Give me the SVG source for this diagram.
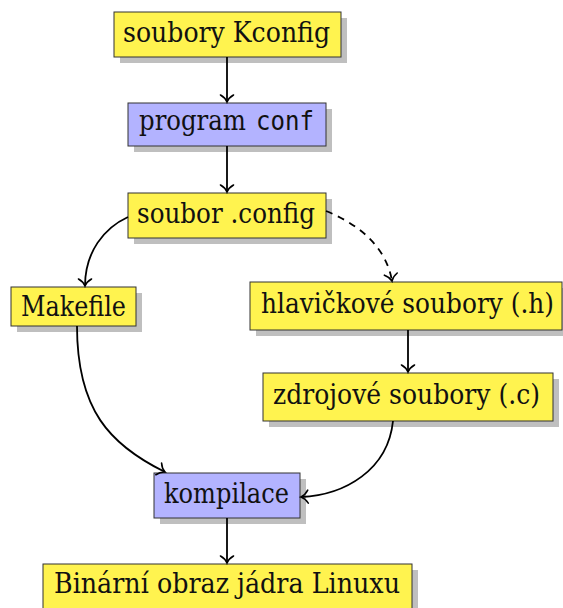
<svg xmlns="http://www.w3.org/2000/svg" width="563" height="608" viewBox="0 0 563 608">
<style>
.box{stroke:#333;stroke-width:1}
.y{fill:#fff34f}
.b{fill:#b3b3ff}
.sh{fill:#bfbfbf}
.t{font-family:"DejaVu Serif",serif;font-size:27px;fill:#111}
.m{font-family:"DejaVu Sans Mono",monospace;font-size:26px;fill:#111}
.e{fill:none;stroke:#000;stroke-width:1.8}
.d{stroke-dasharray:7 6}
</style>
<defs>
<marker id="arr" viewBox="-9 -8 11 16" markerWidth="11" markerHeight="16" refX="0" refY="0" orient="auto" markerUnits="userSpaceOnUse">
<path d="M-7,-6.5 C-5,-3 -1.8,-0.7 0,0 C-1.8,0.7 -5,3 -7,6.5" fill="none" stroke="#000" stroke-width="1.6" stroke-linecap="round"/>
</marker>
</defs>
<g id="kconfig">
<rect class="sh" x="120" y="18" width="227" height="45"/>
<rect class="box y" x="114" y="12" width="227" height="45"/>
<text class="t" x="123" y="42" textLength="207" lengthAdjust="spacingAndGlyphs">soubory Kconfig</text>
</g>
<g id="conf">
<rect class="sh" x="134" y="109" width="198" height="43"/>
<rect class="box b" x="128" y="103" width="198" height="43"/>
<text class="t" x="139" y="130" textLength="107" lengthAdjust="spacingAndGlyphs">program</text>
<text class="m" x="256" y="130" textLength="58" lengthAdjust="spacingAndGlyphs">conf</text>
</g>
<g id="config">
<rect class="sh" x="134" y="199" width="198" height="45"/>
<rect class="box y" x="128" y="193" width="198" height="45"/>
<text class="t" x="137" y="223" textLength="178" lengthAdjust="spacingAndGlyphs">soubor .config</text>
</g>
<g id="makefile">
<rect class="sh" x="17" y="293" width="125" height="39"/>
<rect class="box y" x="11" y="287" width="125" height="39"/>
<text class="t" x="21" y="316" textLength="105" lengthAdjust="spacingAndGlyphs">Makefile</text>
</g>
<g id="headers">
<rect class="sh" x="256" y="288" width="312" height="48"/>
<rect class="box y" x="250" y="282" width="312" height="48"/>
<text class="t" x="261" y="313" textLength="293" lengthAdjust="spacingAndGlyphs">hlavičkové soubory (.h)</text>
</g>
<g id="sources">
<rect class="sh" x="269" y="379" width="290" height="48"/>
<rect class="box y" x="263" y="373" width="290" height="48"/>
<text class="t" x="273" y="404" textLength="267" lengthAdjust="spacingAndGlyphs">zdrojové soubory (.c)</text>
</g>
<g id="compile">
<rect class="sh" x="160" y="479" width="146" height="45"/>
<rect class="box b" x="154" y="473" width="146" height="45"/>
<text class="t" x="164" y="503" textLength="125" lengthAdjust="spacingAndGlyphs">kompilace</text>
</g>
<g id="binary">
<rect class="sh" x="49" y="570" width="369" height="45"/>
<rect class="box y" x="43" y="564" width="369" height="45"/>
<text class="t" x="54" y="593" textLength="346" lengthAdjust="spacingAndGlyphs">Binární obraz jádra Linuxu</text>
</g>
<g id="connectors">
<path class="e" d="M227,57 L227,102" marker-end="url(#arr)"/>
<path class="e" d="M227,146 L227,192" marker-end="url(#arr)"/>
<path class="e" d="M128,217 C104,228 85,252 85,286" marker-end="url(#arr)"/>
<path class="e d" d="M326,211 C358,224 386,246 392,281" marker-end="url(#arr)"/>
<path class="e" d="M408,330 L408,372" marker-end="url(#arr)"/>
<path class="e" d="M77,326 C77,410 110,445 165,472" marker-end="url(#arr)"/>
<path class="e" d="M393,421 C388,470 345,495 301,497" marker-end="url(#arr)"/>
<path class="e" d="M227,518 L227,563" marker-end="url(#arr)"/>
</g>
</svg>
